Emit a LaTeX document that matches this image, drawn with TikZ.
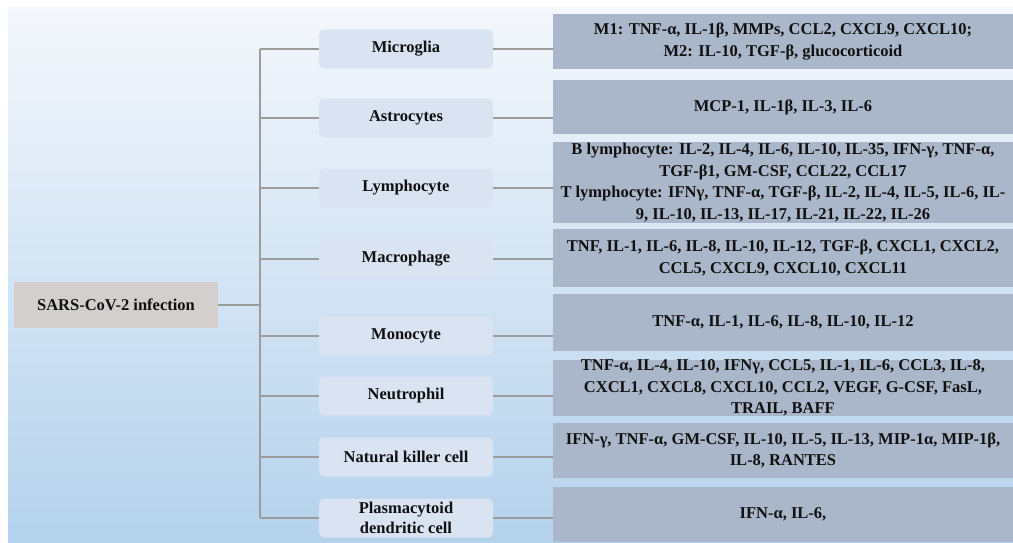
\documentclass[tikz,border=0pt]{standalone}
\usepackage{fontspec}
\setmainfont{Liberation Serif}
\begin{document}
\begin{tikzpicture}[x=1pt,y=-1pt,
  conn/.style={draw=linegrey,line width=1.8pt},
  cellbox/.style={fill=cellfill,rounded corners=5pt,minimum width=174pt,minimum height=39pt,inner sep=0pt,align=center,font=\fontsize{16.5}{19.5}\selectfont\bfseries,text=txt},
  listbox/.style={fill=listfill,minimum width=460pt,inner sep=0pt,align=center,font=\fontsize{16.5}{21.5}\selectfont\bfseries,text=txt},
  rootbox/.style={fill=rootfill,minimum width=204pt,minimum height=46pt,inner sep=0pt,font=\fontsize{16.5}{19.5}\selectfont\bfseries,text=txt}]
\definecolor{bgtop}{HTML}{F4F7FC}
\definecolor{bgmid}{HTML}{CCDFF1}
\definecolor{bgbot}{HTML}{B4D2EC}
\definecolor{cellfill}{HTML}{DAE3F2}
\definecolor{listfill}{HTML}{AAB6C9}
\definecolor{rootfill}{HTML}{D3CFCF}
\definecolor{linegrey}{HTML}{9C9C9C}
\definecolor{txt}{HTML}{111111}
\useasboundingbox (0,0) rectangle (1013,542);
\fill[top color=bgtop,middle color=bgmid,bottom color=bgbot] (8,7) rectangle (1013,542);

\node[rootbox] (root) at (116,305) {SARS-CoV-2 infection};
\coordinate (trunk) at (260,305);

\node[cellbox] (mg) at (406,49) {Microglia};
\node[cellbox] (as) at (406,118) {Astrocytes};
\node[cellbox] (ly) at (406,188) {Lymphocyte};
\node[cellbox] (ma) at (406,259) {Macrophage};
\node[cellbox] (mo) at (406,336) {Monocyte};
\node[cellbox] (ne) at (406,396) {Neutrophil};
\node[cellbox] (nk) at (406,457) {Natural killer cell};
\node[cellbox] (pd) at (406,518) {Plasmacytoid\\dendritic cell};

\node[listbox,minimum height=55pt] (mgR) at (783,41.5) {M1: TNF-α, IL-1β, MMPs, CCL2, CXCL9, CXCL10;\\M2: IL-10, TGF-β, glucocorticoid};
\node[listbox,minimum height=54pt] (asR) at (783,107) {MCP-1, IL-1β, IL-3, IL-6};
\node[listbox,minimum height=81pt] (lyR) at (783,182.5) {B lymphocyte: IL-2, IL-4, IL-6, IL-10, IL-35, IFN-γ, TNF-α,\\TGF-β1, GM-CSF, CCL22, CCL17\\T lymphocyte: IFNγ, TNF-α, TGF-β, IL-2, IL-4, IL-5, IL-6, IL-\\9, IL-10, IL-13, IL-17, IL-21, IL-22, IL-26};
\node[listbox,minimum height=58pt] (maR) at (783,258) {TNF, IL-1, IL-6, IL-8, IL-10, IL-12, TGF-β, CXCL1, CXCL2,\\CCL5, CXCL9, CXCL10, CXCL11};
\node[listbox,minimum height=57pt] (moR) at (783,322.5) {TNF-α, IL-1, IL-6, IL-8, IL-10, IL-12};
\node[listbox,minimum height=56pt] (neR) at (783,388) {TNF-α, IL-4, IL-10, IFNγ, CCL5, IL-1, IL-6, CCL3, IL-8,\\CXCL1, CXCL8, CXCL10, CCL2, VEGF, G-CSF, FasL,\\TRAIL, BAFF};
\node[listbox,minimum height=55pt] (nkR) at (783,450.5) {IFN-γ, TNF-α, GM-CSF, IL-10, IL-5, IL-13, MIP-1α, MIP-1β,\\IL-8, RANTES};
\node[listbox,minimum height=55pt] (pdR) at (783,514.5) {IFN-α, IL-6,};

\draw[conn] (root.east) -- (trunk);
\draw[conn] (trunk |- mg.west) -- (trunk |- pd.west);
\foreach \n in {mg,as,ly,ma,mo,ne,nk,pd}{
  \draw[conn] (trunk |- \n.west) -- (\n.west);
  \draw[conn] (\n.east) -- (\n.east -| \n R.west);
}
\end{tikzpicture}
\end{document}
